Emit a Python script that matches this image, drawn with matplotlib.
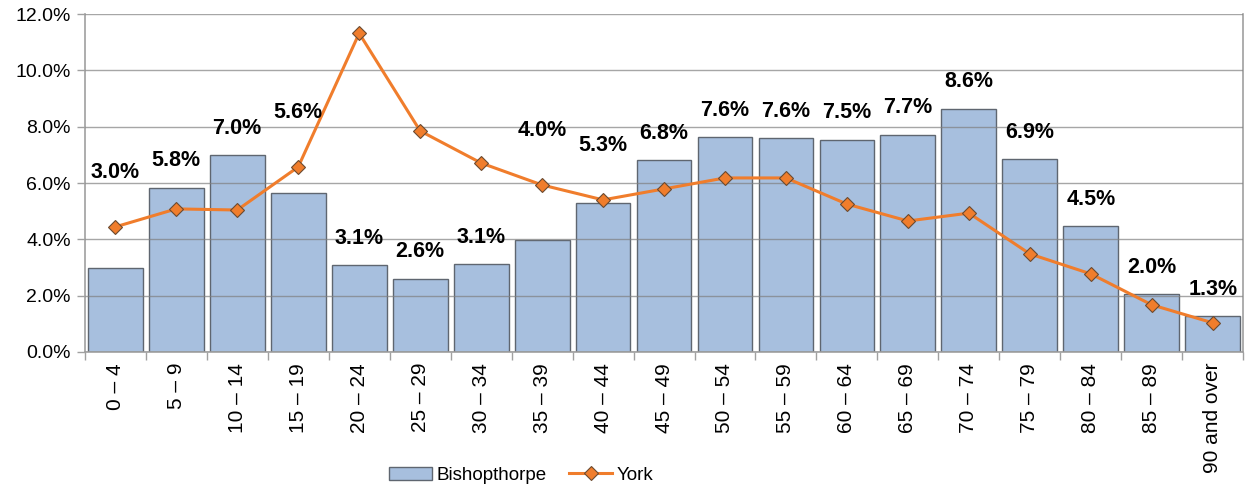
import matplotlib
matplotlib.use("Agg")
import matplotlib.pyplot as plt
import numpy as np
from matplotlib.ticker import FuncFormatter, FixedLocator

plt.rcParams['font.family'] = ['Liberation Sans', 'DejaVu Sans']

categories = ["0 \u2013 4", "5 \u2013 9", "10 \u2013 14", "15 \u2013 19", "20 \u2013 24", "25 \u2013 29",
              "30 \u2013 34", "35 \u2013 39", "40 \u2013 44", "45 \u2013 49", "50 \u2013 54", "55 \u2013 59",
              "60 \u2013 64", "65 \u2013 69", "70 \u2013 74", "75 \u2013 79", "80 \u2013 84", "85 \u2013 89",
              "90 and over"]
bishopthorpe = [2.98, 5.84, 6.98, 5.64, 3.08, 2.60, 3.12, 3.98, 5.28, 6.82, 7.62, 7.60, 7.54,
                7.72, 8.64, 6.86, 4.48, 2.04, 1.28]
york = [4.44, 5.08, 5.04, 6.57, 11.32, 7.85, 6.71, 5.93, 5.40, 5.79, 6.18, 6.18, 5.25, 4.65,
        4.93, 3.48, 2.77, 1.67, 1.03]

fig = plt.figure(figsize=(12.47, 4.88), dpi=100)
ax = fig.add_axes([0.068, 0.279, 0.929, 0.692])

x = np.arange(len(categories))
bars = ax.bar(x, bishopthorpe, width=0.9, color="#A7BFDE", edgecolor="#5F6670", linewidth=1.0,
              zorder=2, label="Bishopthorpe")
line, = ax.plot(x, york, color="#F07D2C", linewidth=2.2, marker="D", markersize=7,
                markerfacecolor="#F07D2C", markeredgecolor="#6B4A30", markeredgewidth=0.8,
                zorder=4, label="York")

for xi, b, yv in zip(x, bishopthorpe, york):
    diff = yv - b
    ly = yv + 1.95 if 0 < diff < 2.5 else b + 0.95
    ax.text(xi, ly, f"{b:.1f}%", ha="center", va="center", fontsize=15.5,
            fontweight="bold", color="black", zorder=5)

ax.set_xlim(-0.5, len(categories) - 0.5)
ax.set_ylim(0, 12)
ax.yaxis.set_major_locator(FixedLocator(np.arange(0, 12.1, 2)))
ax.yaxis.set_major_formatter(FuncFormatter(lambda v, p: f"{v:.1f}%"))
ax.grid(axis="y", color="#808080", alpha=0.7, linewidth=1.0, zorder=3)
ax.set_axisbelow(False)

ax.set_xticks(x)
ax.set_xticklabels(categories, rotation=90, fontsize=15, va="top")
ax.tick_params(axis="x", which="major", length=0, pad=8)
ax.set_xticks(np.arange(-0.5, len(categories), 1), minor=True)
ax.tick_params(axis="x", which="minor", length=6, color="#a0a0a0", width=1)
ax.tick_params(axis="y", labelsize=14, length=6, color="#a0a0a0", width=1, pad=4)

for s in ["left", "bottom", "right"]:
    ax.spines[s].set_color("#a0a0a0")
    ax.spines[s].set_linewidth(1.2)
ax.spines["top"].set_visible(False)

fig.legend(handles=[bars, line], labels=["Bishopthorpe", "York"], loc="center",
           bbox_to_anchor=(0.418, 0.026), ncol=2, frameon=False,
           fontsize=13.5, handlelength=2.3, columnspacing=1.2, handletextpad=0.25)

fig.savefig("out.png", dpi=100)
